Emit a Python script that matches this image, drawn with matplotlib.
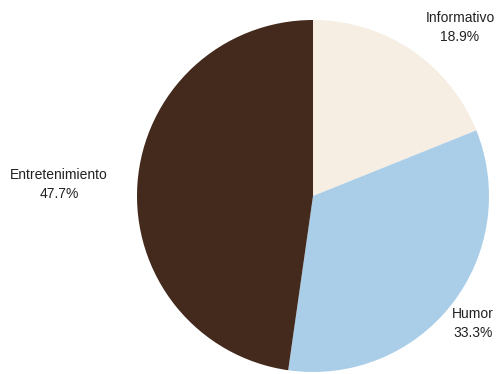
import matplotlib
matplotlib.use('Agg')
from matplotlib import pyplot as plt

plt.rcParams['font.family'] = ['Liberation Sans', 'DejaVu Sans']

categories = ['Informativo', 'Humor', 'Entretenimiento']
shares = [18.9, 33.3, 47.7]
colors = ['#F6EDE3', '#AACDE8', '#432A1D']
# where each label block sits, relative to the pie centre (radius = 1)
label_pos = [(0.835, 0.96), (0.909, -0.727), (-1.443, 0.068)]

fig = plt.figure(figsize=(4.98, 3.74), dpi=100)
ax = fig.add_axes([137/498, 2/374, 352/498, 352/374])

ax.pie(shares, colors=colors, startangle=90, counterclock=False,
       radius=1, wedgeprops={'linewidth': 0})

for name, val, (x, y) in zip(categories, shares, label_pos):
    ax.text(x, y, f'{name}\n{val}%', ha='center', va='center',
            fontsize=10, linespacing=1.45, color='#222222')

ax.set_xlim(-1, 1)
ax.set_ylim(-1, 1)
ax.set_aspect('equal')
ax.axis('off')

plt.savefig('out.png', dpi=100)
